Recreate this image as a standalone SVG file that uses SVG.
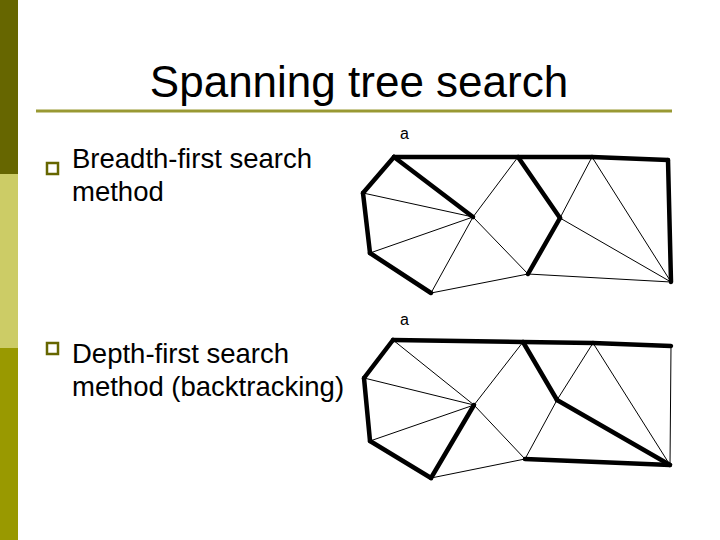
<svg xmlns="http://www.w3.org/2000/svg" width="720" height="540" viewBox="0 0 720 540">
<style>
text{font-family:"Liberation Sans",Arial,sans-serif;fill:#000}
.t{font-size:44px}
.b{font-size:27.5px}
.g{font-size:16px;font-family:"Liberation Sans",Arial,sans-serif}
.k{stroke:#000;stroke-width:4.5;stroke-linecap:round}
.n{stroke:#000;stroke-width:1}
.bul{fill:none;stroke:#666600;stroke-width:2.5}
</style>
<rect width="720" height="540" fill="#fff"/>
<rect x="0" y="0" width="18" height="174" fill="#666600"/>
<rect x="0" y="174" width="18" height="174" fill="#CCCC66"/>
<rect x="0" y="348" width="18" height="192" fill="#999900"/>
<line x1="36" y1="111" x2="672" y2="111" stroke="#999933" stroke-width="3"/>
<text class="t" x="359" y="97" text-anchor="middle">Spanning tree search</text>
<g id="bullet1"><rect class="bul" x="47" y="163" width="11" height="11"/>
<text class="b" x="72" y="168">Breadth-first search</text><text class="b" x="72" y="201">method</text></g>
<g id="bullet2"><rect class="bul" x="47" y="343" width="11" height="11"/>
<text class="b" x="72" y="363">Depth-first search</text><text class="b" x="72" y="396">method (backtracking)</text></g>
<g id="graph1">
<text class="g" x="400" y="139">a</text>
<g id="edges1">
<line class="n" x1="363" y1="193" x2="473" y2="217"/>
<line class="n" x1="370" y1="253" x2="473" y2="217"/>
<line class="n" x1="431" y1="293" x2="473" y2="217"/>
<line class="n" x1="518" y1="157" x2="473" y2="217"/>
<line class="n" x1="528" y1="274" x2="473" y2="217"/>
<line class="n" x1="431" y1="293" x2="528" y2="274"/>
<line class="n" x1="528" y1="274" x2="671" y2="282"/>
<line class="n" x1="560" y1="218" x2="671" y2="282"/>
<line class="n" x1="560" y1="218" x2="592" y2="157"/>
<line class="n" x1="592" y1="157" x2="671" y2="282"/>
<line class="k" x1="394" y1="157" x2="518" y2="157"/>
<line class="k" x1="518" y1="157" x2="592" y2="157"/>
<line class="k" x1="592" y1="157" x2="668" y2="160"/>
<line class="k" x1="668" y1="160" x2="671" y2="282"/>
<line class="k" x1="394" y1="157" x2="363" y2="193"/>
<line class="k" x1="363" y1="193" x2="370" y2="253"/>
<line class="k" x1="370" y1="253" x2="431" y2="293"/>
<line class="k" x1="394" y1="157" x2="473" y2="217"/>
<line class="k" x1="518" y1="157" x2="560" y2="218"/>
<line class="k" x1="560" y1="218" x2="528" y2="274"/>
</g></g>
<g id="graph2">
<text class="g" x="400" y="325">a</text>
<g id="edges2">
<line class="n" x1="393" y1="340" x2="474" y2="405"/>
<line class="n" x1="364" y1="378" x2="474" y2="405"/>
<line class="n" x1="370" y1="441" x2="474" y2="405"/>
<line class="n" x1="523" y1="342" x2="474" y2="405"/>
<line class="n" x1="525" y1="459" x2="474" y2="405"/>
<line class="n" x1="431" y1="478" x2="525" y2="459"/>
<line class="n" x1="525" y1="459" x2="557" y2="400"/>
<line class="n" x1="557" y1="400" x2="593" y2="343"/>
<line class="n" x1="593" y1="343" x2="670" y2="465"/>
<line class="n" x1="671" y1="346" x2="670" y2="465" stroke-width="2"/>
<line class="k" x1="393" y1="340" x2="523" y2="342"/>
<line class="k" x1="523" y1="342" x2="593" y2="343"/>
<line class="k" x1="593" y1="343" x2="671" y2="346"/>
<line class="k" x1="393" y1="340" x2="364" y2="378"/>
<line class="k" x1="364" y1="378" x2="370" y2="441"/>
<line class="k" x1="370" y1="441" x2="431" y2="478"/>
<line class="k" x1="431" y1="478" x2="474" y2="405"/>
<line class="k" x1="523" y1="342" x2="557" y2="400"/>
<line class="k" x1="557" y1="400" x2="670" y2="465"/>
<line class="k" x1="525" y1="459" x2="670" y2="465"/>
</g></g>
</svg>
